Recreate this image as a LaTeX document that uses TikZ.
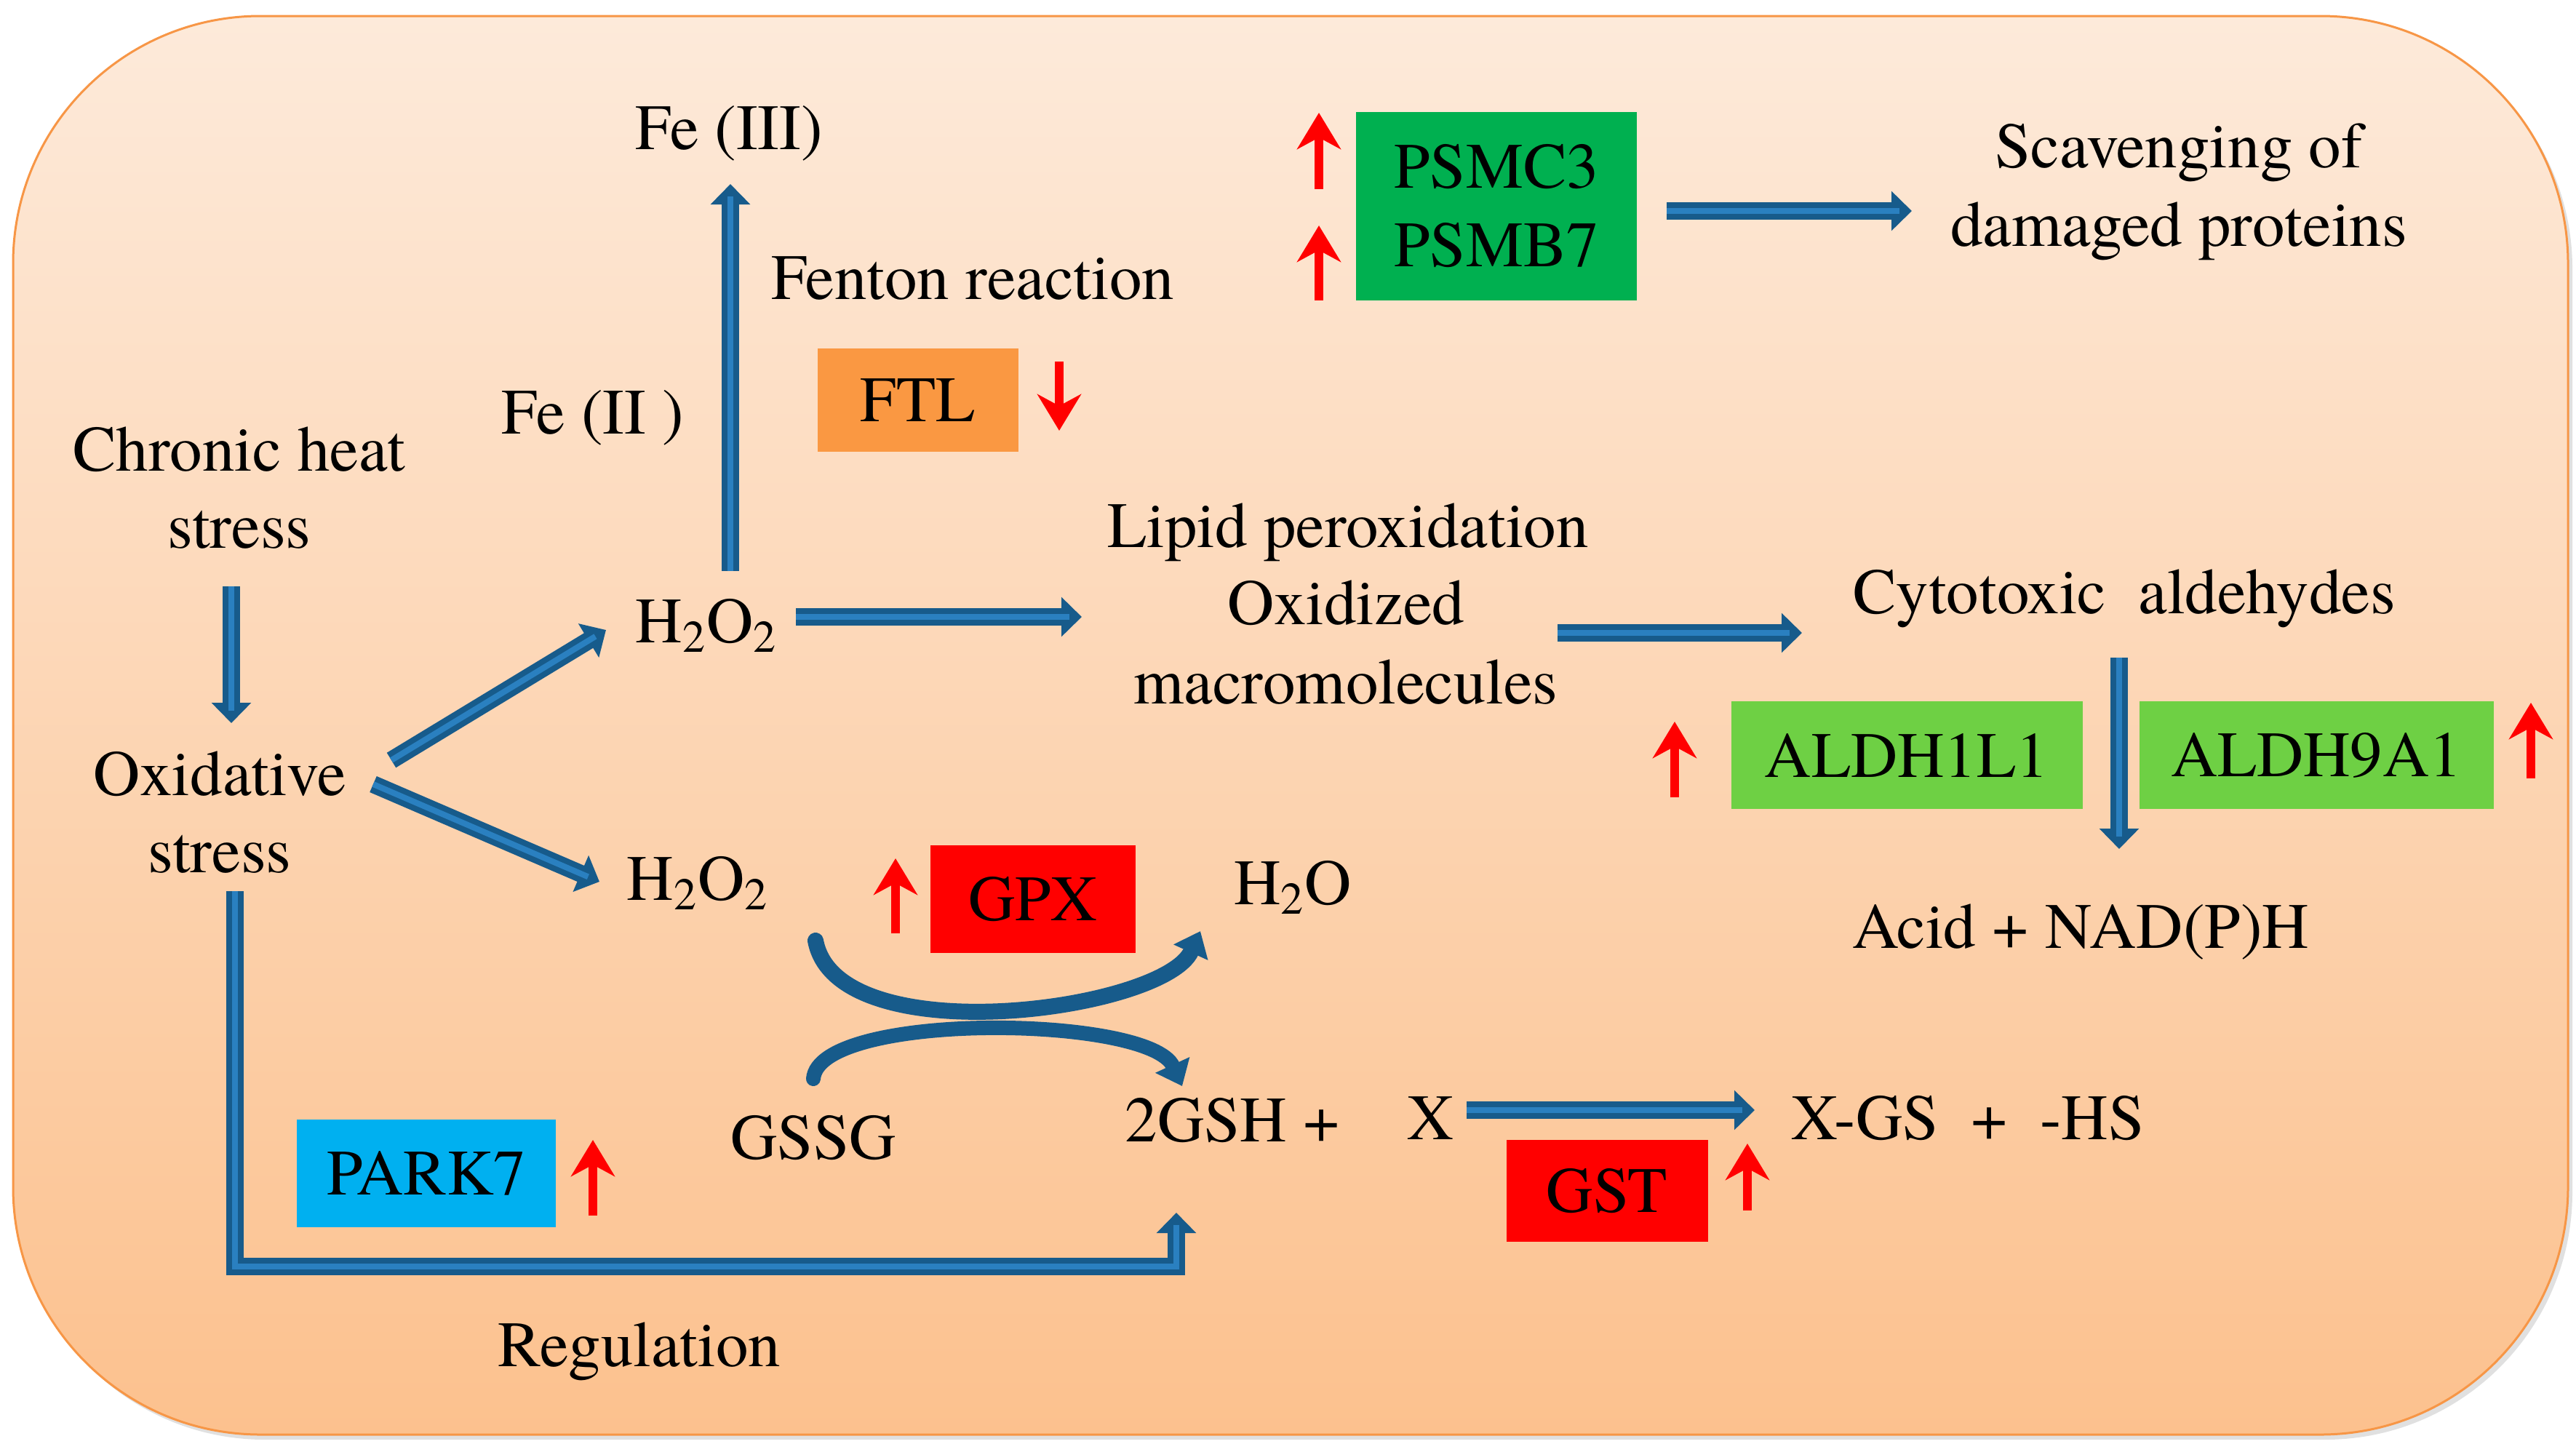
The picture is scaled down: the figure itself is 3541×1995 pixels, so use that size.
\documentclass[tikz,border=0pt]{standalone}
\usepackage{fontspec}
\setmainfont{TeX Gyre Termes}
\newfontfamily\tnrfont{TeX Gyre Termes}
\usetikzlibrary{arrows.meta}
\definecolor{bdark}{RGB}{23,91,139}
\definecolor{blight}{RGB}{42,128,192}
\definecolor{bgtop}{RGB}{253,234,218}
\definecolor{bgbot}{RGB}{252,193,142}
\definecolor{framec}{RGB}{247,150,70}
\definecolor{ftlc}{RGB}{250,152,66}
\definecolor{psmc}{RGB}{0,176,80}
\definecolor{aldhc}{RGB}{110,208,68}
\definecolor{parkc}{RGB}{0,176,240}
\definecolor{redbox}{RGB}{255,0,0}
\newcommand{\bluearrow}[1]{\draw[flow] #1; \draw[stripe] #1;}
\begin{document}
\begin{tikzpicture}[x=0.1mm,y=-0.1mm,
  txt/.style={font=\tnrfont\fontsize{25.3}{30.7}\selectfont, inner sep=0pt, anchor=base},
  gene/.style={font=\tnrfont\fontsize{25.3}{30.7}\selectfont, inner sep=0pt, align=left},
  flow/.style={draw=bdark, line width=2.4mm, -{Triangle[length=2.8mm,width=5.3mm]}},
  stripe/.style={draw=blight, line width=0.8mm, shorten >=1.7mm},
  bendflow/.style={draw=bdark, line width=2.2mm, line cap=round, -{Triangle[length=3.2mm,width=5mm]}},
  uparrow/.style={draw=red, line width=1.2mm, -{Stealth[length=5mm,width=6mm,inset=1.6mm]}},
]
\useasboundingbox (0,0) rectangle (3541,1995);
% background panel
\fill[black, opacity=0.12, rounded corners=34mm] (24,29) rectangle (3536,1979);
\shade[top color=bgtop, bottom color=bgbot, rounded corners=34mm] (18,22) rectangle (3530,1972);
\draw[framec, line width=0.3mm, rounded corners=34mm] (18,22) rectangle (3530,1972);

% text nodes
\node[txt] (fe3) at (1002,205) {Fe (III)};
\node[txt] (fenton) at (1337,411) {Fenton reaction};
\node[txt] (fe2) at (815,596) {Fe (II )};
\node[txt] (chronicA) at (329,647) {Chronic heat};
\node[txt] (chronicB) at (329,753) {stress};
\node[txt] (oxA) at (302,1093) {Oxidative};
\node[txt] (oxB) at (302,1199) {stress};
\node[txt] (h2a) at (971,883) {H\textsubscript{2}O\textsubscript{2}};
\node[txt] (h2b) at (959,1237) {H\textsubscript{2}O\textsubscript{2}};
\node[txt] (lipid) at (1853,752) {Lipid peroxidation};
\node[txt] (oxid) at (1850,858) {Oxidized};
\node[txt] (macro) at (1850,967) {macromolecules};
\node[txt] (cyto) at (2920,843) {Cytotoxic\ \ aldehydes};
\node[txt] (acid) at (2860,1303) {Acid + NAD(P)H};
\node[txt] (h2o) at (1777,1243) {H\textsubscript{2}O};
\node[txt] (gssg) at (1118,1593) {GSSG};
\node[txt] (gsh) at (1694,1569) {2GSH +};
\node[txt] (xx) at (1967,1566) {X};
\node[txt] (xgs) at (2705,1566) {X-GS\ \ +\ \ -HS};
\node[txt] (reg) at (879,1878) {Regulation};
\node[txt] (scavA) at (2995,230) {Scavenging of};
\node[txt] (scavB) at (2995,338) {damaged proteins};

% gene boxes
\node[gene, fill=ftlc, minimum width=27.6mm, minimum height=14.2mm] (ftl) at (1262,550) {FTL};
\node[gene, fill=psmc, minimum width=38.6mm, minimum height=25.9mm] (psm) at (2057,283) {PSMC3\\PSMB7};
\node[gene, fill=redbox, minimum width=28.2mm, minimum height=14.8mm] (gpx) at (1420,1236) {GPX};
\node[gene, fill=aldhc, minimum width=48.3mm, minimum height=14.8mm] (aldhA) at (2621,1038) {ALDH1L1};
\node[gene, fill=aldhc, minimum width=48.7mm, minimum height=14.8mm] (aldhB) at (3184,1038) {ALDH9A1};
\node[gene, fill=parkc, minimum width=35.6mm, minimum height=14.8mm] (park) at (586,1613) {PARK7};
\node[gene, fill=redbox, minimum width=27.7mm, minimum height=14mm] (gst) at (2209,1637) {GST};

% connector end points
\coordinate (feS) at (1004,785);   \coordinate (feE) at (1004,253);
\coordinate (chS) at (318,806);    \coordinate (chE) at (318,994);
\coordinate (oaS) at (538,1045);   \coordinate (oaE) at (833,866);
\coordinate (obS) at (513,1078);   \coordinate (obE) at (824,1212);
\coordinate (hlS) at (1094,848);   \coordinate (hlE) at (1487,848);
\coordinate (lcS) at (2141,870);   \coordinate (lcE) at (2477,870);
\coordinate (psS) at (2291,290);   \coordinate (psE) at (2628,290);
\coordinate (caS) at (2913,904);   \coordinate (caE) at (2913,1167);
\coordinate (xgS) at (2016,1526);  \coordinate (xgE) at (2412,1526);
\coordinate (rgS) at (323,1225);   \coordinate (rg1) at (323,1741);
\coordinate (rg2) at (1617,1741);  \coordinate (rgE) at (1617,1667);
\coordinate (cuS) at (1121,1293);  \coordinate (cuE) at (1650,1280);
\coordinate (clS) at (1118,1483);  \coordinate (clE) at (1625,1493);

% blue connectors
\bluearrow{(feS) -- (feE)}
\bluearrow{(chS) -- (chE)}
\bluearrow{(oaS) -- (oaE)}
\bluearrow{(obS) -- (obE)}
\bluearrow{(hlS) -- (hlE)}
\bluearrow{(lcS) -- (lcE)}
\bluearrow{(psS) -- (psE)}
\bluearrow{(caS) -- (caE)}
\bluearrow{(xgS) -- (xgE)}
\bluearrow{(rgS) -- (rg1) -- (rg2) -- (rgE)}
\draw[bendflow] (cuS) .. controls (1150,1450) and (1600,1390) .. (cuE);
\draw[bendflow, line width=2mm] (clS) .. controls (1125,1390) and (1580,1395) .. (clE);

% red regulation arrows
\draw[uparrow] (1813,260) -- (1813,155);
\draw[uparrow] (1813,413) -- (1813,310);
\draw[uparrow] (1456,497) -- (1456,592);
\draw[uparrow] (1231,1283) -- (1231,1180);
\draw[uparrow] (2302,1096) -- (2302,992);
\draw[uparrow] (3479,1070) -- (3479,966);
\draw[uparrow] (815,1671) -- (815,1567);
\draw[uparrow] (2402,1664) -- (2402,1572);
\end{tikzpicture}
\end{document}
